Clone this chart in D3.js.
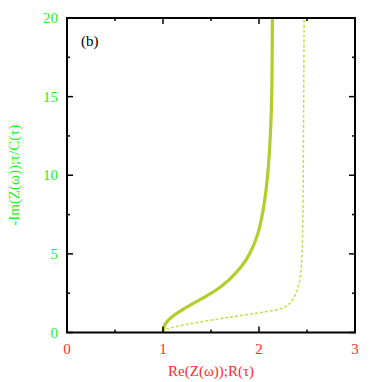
<!DOCTYPE html>
<html>
<head>
<meta charset="utf-8">
<script src="https://cdn.jsdelivr.net/npm/d3@7"></script>
<style>
  body { margin: 0; background: #fff; }
  text { font-family: "Liberation Serif", "DejaVu Serif", serif; }
</style>
</head>
<body>
<script>
// data
var xTicks = [0, 1, 2, 3];
var yTicks = [0, 5, 10, 15, 20];
var xMinor = [0.5, 1.5, 2.5];
var yMinor = [2.5, 7.5, 12.5, 17.5];

// solid curve: -Im Z vs Re Z
var solidX = [1.0, 1.003, 1.01, 1.04, 1.09, 1.195, 1.33, 1.44, 1.62, 1.755, 1.872, 1.94, 1.993, 2.03, 2.06, 2.085, 2.107, 2.125, 2.135, 2.14];
var solidY = [0, 0.2, 0.4, 0.7, 1.0, 1.43, 1.9, 2.25, 2.95, 3.72, 4.61, 5.46, 6.31, 7.3, 8.4, 9.6, 11.2, 13.3, 15.4, 20];

// dashed curve: tau/C vs R
var dashX = [1.0, 1.003, 1.02, 1.125, 1.333, 1.61, 1.75, 2.08, 2.2, 2.25, 2.3, 2.34, 2.39, 2.427, 2.445, 2.455, 2.46, 2.465, 2.47];
var dashY = [0, 0.1, 0.2, 0.37, 0.62, 0.9, 1.02, 1.33, 1.45, 1.56, 1.72, 1.96, 2.5, 3.34, 4.19, 6.3, 8.44, 14, 20];

var W = 382, H = 382;
var pLeft = 67, pRight = 355, pTop = 18, pBottom = 332.5;

var svg = d3.select("body").append("svg")
  .attr("width", W)
  .attr("height", H);

var x = d3.scaleLinear().domain([0, 3]).range([pLeft, pRight]);
var y = d3.scaleLinear().domain([0, 20]).range([pBottom, pTop]);

// curves (basis smooths out small reading errors)
var line = d3.line()
  .x(function (d) { return x(d[0]); })
  .y(function (d) { return y(d[1]); })
  .curve(d3.curveBasis);

svg.append("path")
  .datum(d3.zip(dashX, dashY))
  .attr("d", line)
  .attr("fill", "none")
  .attr("stroke", "#c4dc4c")
  .attr("stroke-width", 1.5)
  .attr("stroke-dasharray", "3,2");

svg.append("path")
  .datum(d3.zip(solidX, solidY))
  .attr("d", line)
  .attr("fill", "none")
  .attr("stroke", "#b4cc2c")
  .attr("stroke-width", 3.2);

// frame
svg.append("rect")
  .attr("x", pLeft)
  .attr("y", pTop)
  .attr("width", pRight - pLeft)
  .attr("height", pBottom - pTop)
  .attr("fill", "none")
  .attr("stroke", "#000")
  .attr("stroke-width", 2);

// ticks pointing inward, on all four sides
var ticks = svg.append("g").attr("stroke", "#000").attr("stroke-width", 1.5);
function xTick(v, len) {
  ticks.append("line").attr("x1", x(v)).attr("x2", x(v)).attr("y1", pBottom).attr("y2", pBottom - len);
  ticks.append("line").attr("x1", x(v)).attr("x2", x(v)).attr("y1", pTop).attr("y2", pTop + len);
}
function yTick(v, len) {
  ticks.append("line").attr("y1", y(v)).attr("y2", y(v)).attr("x1", pLeft).attr("x2", pLeft + len);
  ticks.append("line").attr("y1", y(v)).attr("y2", y(v)).attr("x1", pRight).attr("x2", pRight - len);
}
xTicks.forEach(function (v) { xTick(v, 6); });
xMinor.forEach(function (v) { xTick(v, 3); });
yTicks.forEach(function (v) { yTick(v, 6); });
yMinor.forEach(function (v) { yTick(v, 3); });

// tick labels
svg.append("g").selectAll("text").data(xTicks).join("text")
  .attr("x", function (d) { return x(d); })
  .attr("y", pBottom + 21)
  .attr("text-anchor", "middle")
  .attr("font-size", 15)
  .attr("fill", "#ff2a2a")
  .text(function (d) { return d; });

svg.append("g").selectAll("text").data(yTicks).join("text")
  .attr("x", pLeft - 9)
  .attr("y", function (d) { return y(d) + 5; })
  .attr("text-anchor", "end")
  .attr("font-size", 15)
  .attr("fill", "#22ee22")
  .text(function (d) { return d; });

// axis titles
svg.append("text")
  .attr("x", (pLeft + pRight) / 2)
  .attr("y", 376)
  .attr("text-anchor", "middle")
  .attr("font-size", 15)
  .attr("fill", "#ff2a2a")
  .text("Re(Z(ω));R(τ)");

svg.append("text")
  .attr("transform", "translate(19," + ((pTop + pBottom) / 2) + ") rotate(-90)")
  .attr("text-anchor", "middle")
  .attr("font-size", 15)
  .attr("fill", "#22ee22")
  .text("-Im(Z(ω));τ/C(τ)");

svg.append("text")
  .attr("x", 81)
  .attr("y", 46)
  .attr("font-size", 15)
  .attr("fill", "#000")
  .text("(b)");
</script>
</body>
</html>
